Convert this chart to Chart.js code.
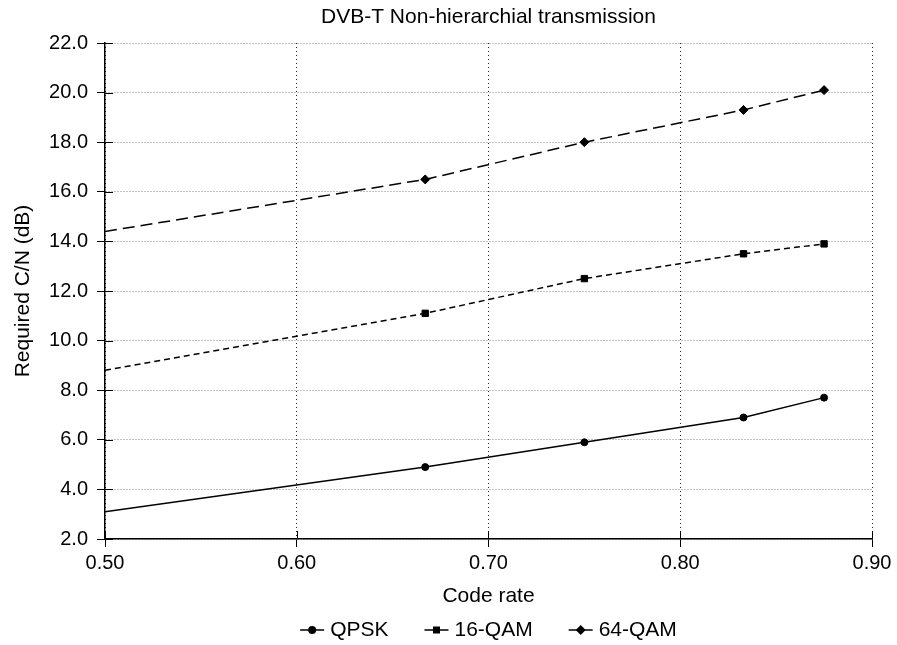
<!DOCTYPE html>
<html lang="en">
<head>
<meta charset="utf-8">
<title>DVB-T Non-hierarchial transmission</title>
<script src="https://cdn.jsdelivr.net/npm/chart.js"></script>
<style>
    html, body { margin: 0; padding: 0; background: #fff; }
    canvas { display: block; }
</style>
</head>
<body>
<canvas id="grafico" width="897" height="645"></canvas>
<script>
// Datos (tasa de código vs C/N requerido).
const TASAS_CODIGO = [0.5, 0.667, 0.75, 0.833, 0.875];
const CN_QPSK = [3.1, 4.9, 5.9, 6.9, 7.7];
const CN_16QAM = [8.8, 11.1, 12.5, 13.5, 13.9];
const CN_64QAM = [14.4, 16.5, 18.0, 19.3, 20.1];
const SERIES = ['QPSK', '16-QAM', '64-QAM'];

// Textos del gráfico.
const TITULO = 'DVB-T Non-hierarchial transmission';
const TITULO_X = 'Code rate';
const TITULO_Y = 'Required C/N (dB)';

// Fuente común para todos los textos.
const FUENTE = '"Liberation Sans", Arial, Helvetica, sans-serif';
const TAM = 20;
const TAM_TITULOS = 21;

// Función para convertir los arreglos en puntos {x, y}.
const puntos = (ys) => TASAS_CODIGO.map((x, i) => ({ x: x, y: ys[i] }));

// Función para armar el estilo de cada serie. El primer punto (0.50) no lleva marcador.
const serie = (label, ys, forma, dash, radio) => ({
    label: label,
    data: puntos(ys),
    showLine: true,
    borderColor: '#000',
    backgroundColor: '#000',
    borderWidth: 1.5,
    borderDash: dash,
    pointStyle: forma,
    pointRadius: ys.map((_, i) => (i === 0 ? 0 : radio)),
    pointBorderWidth: 1,
    pointBorderColor: '#000',
    pointBackgroundColor: '#000',
    tension: 0
});

// Dibuja un marcador simple para la leyenda.
const marcador = (ctx, forma, x, y) => {
    ctx.beginPath();
    if (forma === 'circle') {
        ctx.arc(x, y, 4, 0, Math.PI * 2);
    } else if (forma === 'rect') {
        ctx.rect(x - 3.5, y - 3.5, 7, 7);
    } else {
        ctx.moveTo(x, y - 5);
        ctx.lineTo(x + 5, y);
        ctx.lineTo(x, y + 5);
        ctx.lineTo(x - 5, y);
        ctx.closePath();
    }
    ctx.fill();
};

// Plugin para el título centrado sobre el área del gráfico.
const tituloCentrado = {
    id: 'tituloCentrado',
    afterDraw(chart) {
        const { ctx, chartArea } = chart;
        ctx.save();
        ctx.font = `${TAM_TITULOS}px ${FUENTE}`;
        ctx.fillStyle = '#000';
        ctx.textAlign = 'center';
        ctx.textBaseline = 'middle';
        ctx.fillText(TITULO, (chartArea.left + chartArea.right) / 2, 17);
        ctx.restore();
    }
};

// Plugin para la leyenda inferior con línea y marcador.
const leyendaLinea = {
    id: 'leyendaLinea',
    afterDraw(chart) {
        const { ctx, chartArea } = chart;
        const largo = 24;
        const hueco = 6;
        const separacion = 36;
        const y = 630;
        ctx.save();
        ctx.font = `${TAM_TITULOS}px ${FUENTE}`;
        const anchos = chart.data.datasets.map(ds => largo + hueco + ctx.measureText(ds.label).width);
        const total = anchos.reduce((a, b) => a + b, 0) + separacion * (anchos.length - 1);
        let x = (chartArea.left + chartArea.right) / 2 - total / 2;
        chart.data.datasets.forEach((ds, i) => {
            ctx.strokeStyle = '#000';
            ctx.fillStyle = '#000';
            ctx.lineWidth = 1.5;
            ctx.beginPath();
            ctx.moveTo(x, y);
            ctx.lineTo(x + largo, y);
            ctx.stroke();
            marcador(ctx, ds.pointStyle, x + largo / 2, y);
            ctx.textAlign = 'left';
            ctx.textBaseline = 'middle';
            ctx.fillText(ds.label, x + largo + hueco, y);
            x += anchos[i] + separacion;
        });
        ctx.restore();
    }
};

// Plugin para que las marcas de los ejes crucen hacia el interior.
const marcasInternas = {
    id: 'marcasInternas',
    beforeDatasetsDraw(chart) {
        const { ctx, chartArea, scales } = chart;
        ctx.save();
        ctx.strokeStyle = '#000';
        ctx.lineWidth = 1;
        scales.x.ticks.forEach(t => {
            const px = Math.round(scales.x.getPixelForValue(t.value)) + 0.5;
            ctx.beginPath();
            ctx.moveTo(px, chartArea.bottom);
            ctx.lineTo(px, chartArea.bottom - 8);
            ctx.stroke();
        });
        scales.y.ticks.forEach(t => {
            const py = Math.round(scales.y.getPixelForValue(t.value)) + 0.5;
            ctx.beginPath();
            ctx.moveTo(chartArea.left, py);
            ctx.lineTo(chartArea.left + 8, py);
            ctx.stroke();
        });
        ctx.restore();
    }
};

document.addEventListener('DOMContentLoaded', () => {
    const ctx = document.getElementById('grafico').getContext('2d');
    new Chart(ctx, {
        type: 'scatter',
        data: {
            datasets: [
                serie(SERIES[0], CN_QPSK, 'circle', [], 3.5),
                serie(SERIES[1], CN_16QAM, 'rect', [6, 4], 4.5),
                serie(SERIES[2], CN_64QAM, 'rectRot', [12, 6], 4.5)
            ]
        },
        options: {
            responsive: false,
            animation: false,
            devicePixelRatio: 1,
            layout: {
                padding: { top: 43, right: 25, bottom: 36, left: 0 }
            },
            plugins: {
                legend: { display: false },
                title: { display: false },
                tooltip: { enabled: false }
            },
            scales: {
                x: {
                    type: 'linear',
                    position: 'bottom',
                    min: 0.5,
                    max: 0.9,
                    ticks: {
                        stepSize: 0.1,
                        callback: v => v.toFixed(2),
                        color: '#000',
                        font: { family: FUENTE, size: TAM },
                        padding: 4,
                        maxRotation: 0
                    },
                    grid: {
                        color: '#222',
                        lineWidth: 1,
                        tickLength: 8,
                        tickColor: '#000'
                    },
                    border: { display: true, color: '#000', width: 1.5, dash: [1, 3] },
                    title: {
                        display: true,
                        text: TITULO_X,
                        color: '#000',
                        font: { family: FUENTE, size: TAM_TITULOS },
                        padding: { top: 0, bottom: 0 }
                    },
                    afterFit: (escala) => { escala.height = 70; }
                },
                y: {
                    type: 'linear',
                    min: 2,
                    max: 22,
                    ticks: {
                        stepSize: 2,
                        callback: v => v.toFixed(1),
                        color: '#000',
                        font: { family: FUENTE, size: TAM },
                        padding: 9
                    },
                    grid: {
                        color: '#888',
                        lineWidth: 1,
                        tickLength: 8,
                        tickColor: '#000'
                    },
                    border: { display: true, color: '#000', width: 1.5, dash: [1, 2] },
                    title: {
                        display: true,
                        text: TITULO_Y,
                        color: '#000',
                        font: { family: FUENTE, size: TAM_TITULOS },
                        padding: { top: 11, bottom: 0 }
                    },
                    afterFit: (escala) => { escala.width = 105; }
                }
            }
        },
        plugins: [tituloCentrado, leyendaLinea, marcasInternas]
    });
});
</script>
</body>
</html>
